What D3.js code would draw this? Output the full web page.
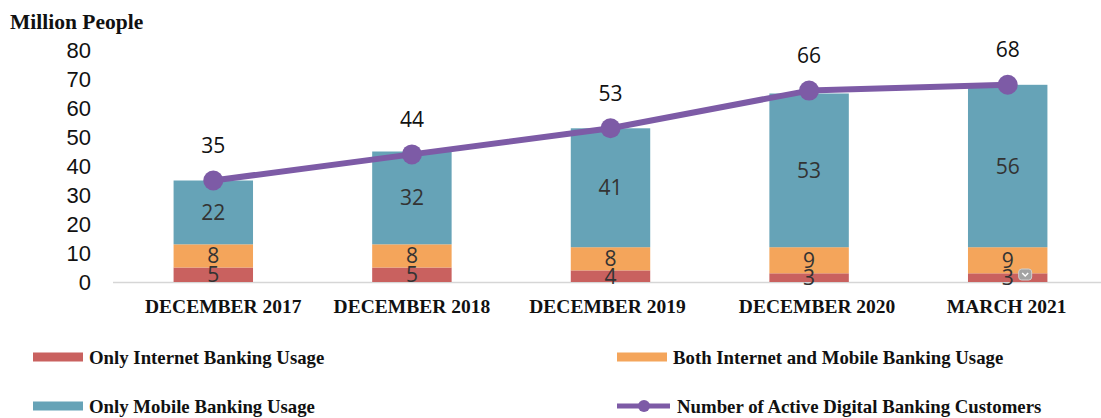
<!DOCTYPE html>
<html>
<head>
<meta charset="utf-8">
<script src="https://cdn.jsdelivr.net/npm/d3@7"></script>
<style>
  html, body { margin: 0; padding: 0; background: #fff; }
  svg { display: block; }
</style>
</head>
<body>
<svg id="chart" width="1101" height="418"></svg>
<script>
// Digital banking customers, million people
const periods = ["DECEMBER 2017", "DECEMBER 2018", "DECEMBER 2019", "DECEMBER 2020", "MARCH 2021"];
const onlyInternet = [5, 5, 4, 3, 3];
const bothInternetMobile = [8, 8, 8, 9, 9];
const onlyMobile = [22, 32, 41, 53, 56];
const activeCustomers = [35, 44, 53, 66, 68];
const yTicks = [0, 10, 20, 30, 40, 50, 60, 70, 80];

const seriesNames = ["Only Internet Banking Usage", "Both Internet and Mobile Banking Usage", "Only Mobile Banking Usage"];
const lineName = "Number of Active Digital Banking Customers";
const colors = ["#c9615f", "#f4a55b", "#66a3b7"];
const lineColor = "#7d5ba6";

// hand-placed horizontal shift of each category label (px)
const tickNudge = [10, 0, -3, 8, -1];

const svg = d3.select("#chart");

const x = d3.scaleBand()
  .domain(periods)
  .range([114, 1107])
  .paddingInner(0.6)
  .paddingOuter(0.3);

const y = d3.scaleLinear().domain([0, 80]).range([282, 50]);

// stacked segments
const rows = periods.map((p, i) => ({
  period: p,
  internet: onlyInternet[i],
  both: bothInternetMobile[i],
  mobile: onlyMobile[i]
}));
const keys = ["internet", "both", "mobile"];
const stacked = d3.stack().keys(keys)(rows);

// baseline
svg.append("line")
  .attr("x1", 113).attr("x2", 1101)
  .attr("y1", y(0) + 0.5).attr("y2", y(0) + 0.5)
  .attr("stroke", "#d6d6d6").attr("stroke-width", 1.5);

const layers = svg.append("g").selectAll("g")
  .data(stacked)
  .join("g")
  .attr("fill", (d, i) => colors[i]);

layers.selectAll("rect")
  .data(d => d)
  .join("rect")
  .attr("x", d => x(d.data.period))
  .attr("width", x.bandwidth())
  .attr("y", d => y(d[1]))
  .attr("height", d => y(d[0]) - y(d[1]));

// segment value labels
const segLabels = svg.append("g")
  .attr("font-family", "'Open Sans', 'Noto Sans', sans-serif")
  .attr("font-size", 21)
  .attr("fill", "#333")
  .attr("text-anchor", "middle");

stacked.forEach((layer, li) => {
  segLabels.selectAll(null)
    .data(layer)
    .join("text")
    .attr("x", d => x(d.data.period) + x.bandwidth() / 2)
    .attr("y", d => (y(d[0]) + y(d[1])) / 2)
    .attr("dy", "0.36em")
    .text(d => d.data[keys[li]]);
});

// small dropdown badge on the last bar
const lastX = x(periods[periods.length - 1]) + x.bandwidth() / 2;
const badge = svg.append("g").attr("transform", `translate(${lastX + 11},${y(0) - 13})`);
badge.append("rect")
  .attr("width", 13).attr("height", 11).attr("rx", 3)
  .attr("fill", "#a3a3a3").attr("stroke", "#d0d0d0");
badge.append("path")
  .attr("d", "M3.5,4 L6.5,7 L9.5,4")
  .attr("fill", "none").attr("stroke", "#fff").attr("stroke-width", 1.4);

// active customers line
const cx = p => x(p) + x.bandwidth() / 2;
const linePts = periods.map((p, i) => [cx(p), y(activeCustomers[i])]);

svg.append("path")
  .datum(linePts)
  .attr("d", d3.line())
  .attr("fill", "none")
  .attr("stroke", lineColor)
  .attr("stroke-width", 6)
  .attr("stroke-linejoin", "round");

svg.append("g").selectAll("circle")
  .data(linePts)
  .join("circle")
  .attr("cx", d => d[0]).attr("cy", d => d[1])
  .attr("r", 10)
  .attr("fill", lineColor);

svg.append("g")
  .attr("font-family", "'Open Sans', 'Noto Sans', sans-serif")
  .attr("font-size", 21)
  .attr("fill", "#111")
  .attr("text-anchor", "middle")
  .selectAll("text")
  .data(periods)
  .join("text")
  .attr("x", p => cx(p))
  .attr("y", (p, i) => y(activeCustomers[i]) - 35)
  .attr("dy", "0.36em")
  .text((p, i) => activeCustomers[i]);

// y axis labels
const yAxis = svg.append("g")
  .attr("transform", "translate(91,0)")
  .call(d3.axisLeft(y).tickValues(yTicks).tickSize(0).tickPadding(0));
yAxis.select(".domain").remove();
yAxis.selectAll("text")
  .attr("font-family", "'Liberation Sans', Arial, sans-serif")
  .attr("font-size", 22)
  .attr("fill", "#111");

svg.append("text")
  .attr("x", 10).attr("y", 29)
  .attr("font-family", "'Liberation Serif', 'Times New Roman', serif")
  .attr("font-weight", "bold")
  .attr("font-size", 21.5)
  .attr("fill", "#111")
  .text("Million People");

// x axis labels
const xAxis = svg.append("g")
  .attr("transform", `translate(0,${y(0)})`)
  .call(d3.axisBottom(x).tickSize(0).tickPadding(17));
xAxis.select(".domain").remove();
xAxis.selectAll("text")
  .attr("x", (d, i) => tickNudge[i])
  .attr("font-family", "'Liberation Serif', 'Times New Roman', serif")
  .attr("font-weight", "bold")
  .attr("font-size", 19.5)
  .attr("fill", "#111");

// legend
const legendFont = "'Liberation Serif', 'Times New Roman', serif";
const legendItems = [
  { name: seriesNames[0], color: colors[0], x: 33, y: 357, type: "bar" },
  { name: seriesNames[1], color: colors[1], x: 617, y: 357, type: "bar" },
  { name: seriesNames[2], color: colors[2], x: 33, y: 406, type: "bar" },
  { name: lineName, color: lineColor, x: 617, y: 406, type: "line" }
];
const legend = svg.append("g");
legendItems.forEach(item => {
  const g = legend.append("g").attr("transform", `translate(${item.x},${item.y})`);
  if (item.type === "bar") {
    g.append("rect")
      .attr("x", 0).attr("y", -4.5)
      .attr("width", 50).attr("height", 9)
      .attr("fill", item.color);
    g.append("text")
      .attr("x", 56).attr("dy", "0.35em")
      .attr("font-family", legendFont).attr("font-weight", "bold")
      .attr("font-size", 18.8).attr("fill", "#111")
      .text(item.name);
  } else {
    g.append("line")
      .attr("x1", 0).attr("x2", 53)
      .attr("stroke", item.color).attr("stroke-width", 5);
    g.append("circle")
      .attr("cx", 27).attr("r", 6).attr("fill", item.color);
    g.append("text")
      .attr("x", 60).attr("dy", "0.35em")
      .attr("font-family", legendFont).attr("font-weight", "bold")
      .attr("font-size", 18.8).attr("fill", "#111")
      .text(item.name);
  }
});
</script>
</body>
</html>
